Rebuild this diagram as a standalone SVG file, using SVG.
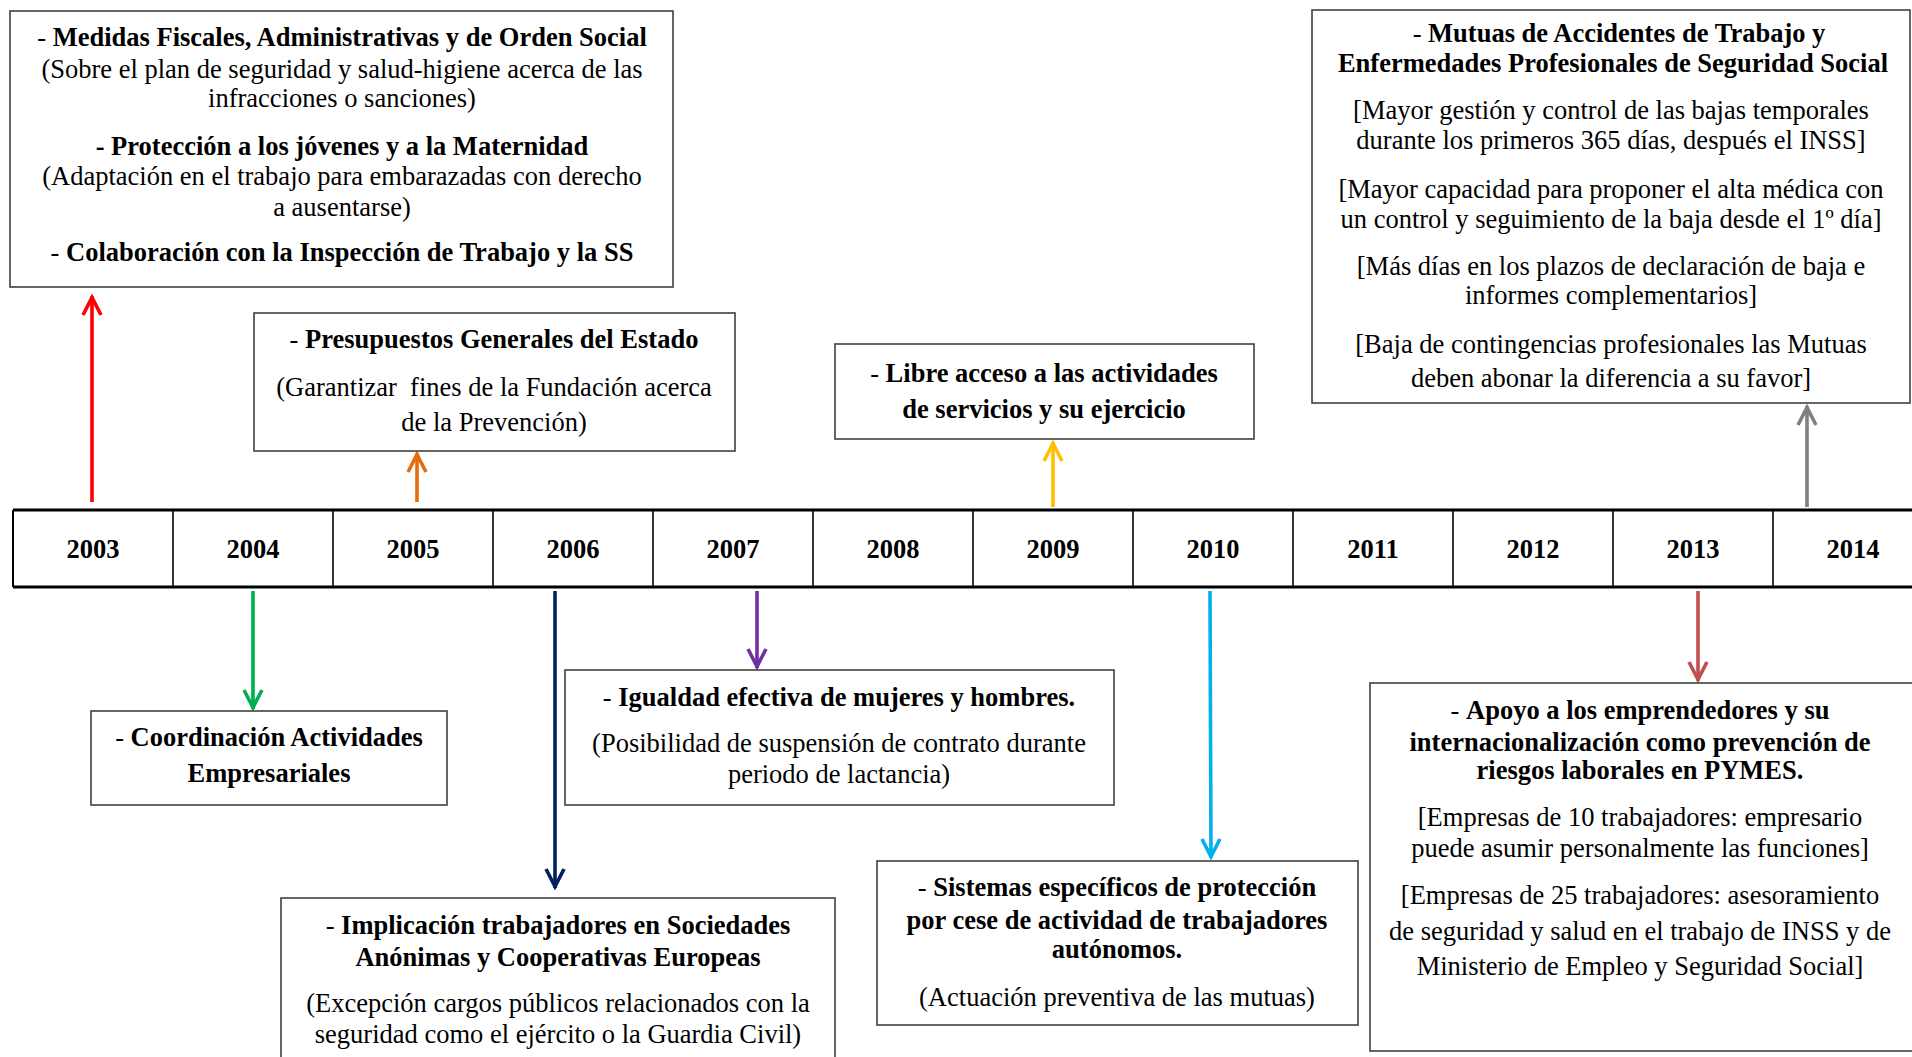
<svg xmlns="http://www.w3.org/2000/svg" width="1912" height="1057" viewBox="0 0 1912 1057">
<style>
text{font-family:"Liberation Serif","Times New Roman",serif;font-size:26.5px;fill:#000;text-anchor:middle}
.b{font-weight:bold}
.n{font-weight:normal}
.yr{font-weight:bold;font-size:26.5px}
.box{fill:#fff;stroke:#404040;stroke-width:1.6}
.conn line{stroke-width:3.6;fill:none}
.ah{fill:none;stroke-width:3.6;stroke-linejoin:miter}
</style>
<defs>
<marker id="m-red" markerUnits="userSpaceOnUse" markerWidth="40" markerHeight="40" refX="0" refY="0" orient="auto" overflow="visible"><path class="ah" d="M-19,-9 L-1.5,0 L-19,9" stroke="#FF0000"/></marker>
<marker id="m-orange" markerUnits="userSpaceOnUse" markerWidth="40" markerHeight="40" refX="0" refY="0" orient="auto" overflow="visible"><path class="ah" d="M-19,-9 L-1.5,0 L-19,9" stroke="#E46C0A"/></marker>
<marker id="m-yellow" markerUnits="userSpaceOnUse" markerWidth="40" markerHeight="40" refX="0" refY="0" orient="auto" overflow="visible"><path class="ah" d="M-19,-9 L-1.5,0 L-19,9" stroke="#FFC000"/></marker>
<marker id="m-gray" markerUnits="userSpaceOnUse" markerWidth="40" markerHeight="40" refX="0" refY="0" orient="auto" overflow="visible"><path class="ah" d="M-19,-9 L-1.5,0 L-19,9" stroke="#808080"/></marker>
<marker id="m-green" markerUnits="userSpaceOnUse" markerWidth="40" markerHeight="40" refX="0" refY="0" orient="auto" overflow="visible"><path class="ah" d="M-19,-9 L-1.5,0 L-19,9" stroke="#00B050"/></marker>
<marker id="m-navy" markerUnits="userSpaceOnUse" markerWidth="40" markerHeight="40" refX="0" refY="0" orient="auto" overflow="visible"><path class="ah" d="M-19,-9 L-1.5,0 L-19,9" stroke="#002060"/></marker>
<marker id="m-purple" markerUnits="userSpaceOnUse" markerWidth="40" markerHeight="40" refX="0" refY="0" orient="auto" overflow="visible"><path class="ah" d="M-19,-9 L-1.5,0 L-19,9" stroke="#7030A0"/></marker>
<marker id="m-blue" markerUnits="userSpaceOnUse" markerWidth="40" markerHeight="40" refX="0" refY="0" orient="auto" overflow="visible"><path class="ah" d="M-19,-9 L-1.5,0 L-19,9" stroke="#00B0F0"/></marker>
<marker id="m-brown" markerUnits="userSpaceOnUse" markerWidth="40" markerHeight="40" refX="0" refY="0" orient="auto" overflow="visible"><path class="ah" d="M-19,-9 L-1.5,0 L-19,9" stroke="#C0504D"/></marker>
</defs>
<rect width="1912" height="1057" fill="#fff"/>

<g id="timeline">
<line x1="13" y1="510" x2="1912" y2="510" stroke="#000" stroke-width="3"/>
<line x1="13" y1="587" x2="1912" y2="587" stroke="#000" stroke-width="3"/>
<g stroke="#000" stroke-width="1.6">
<line x1="13" y1="510" x2="13" y2="587" stroke-width="2"/>
<line x1="173" y1="510" x2="173" y2="587"/>
<line x1="333" y1="510" x2="333" y2="587"/>
<line x1="493" y1="510" x2="493" y2="587"/>
<line x1="653" y1="510" x2="653" y2="587"/>
<line x1="813" y1="510" x2="813" y2="587"/>
<line x1="973" y1="510" x2="973" y2="587"/>
<line x1="1133" y1="510" x2="1133" y2="587"/>
<line x1="1293" y1="510" x2="1293" y2="587"/>
<line x1="1453" y1="510" x2="1453" y2="587"/>
<line x1="1613" y1="510" x2="1613" y2="587"/>
<line x1="1773" y1="510" x2="1773" y2="587"/>
</g>
<text class="yr" x="93" y="558">2003</text>
<text class="yr" x="253" y="558">2004</text>
<text class="yr" x="413" y="558">2005</text>
<text class="yr" x="573" y="558">2006</text>
<text class="yr" x="733" y="558">2007</text>
<text class="yr" x="893" y="558">2008</text>
<text class="yr" x="1053" y="558">2009</text>
<text class="yr" x="1213" y="558">2010</text>
<text class="yr" x="1373" y="558">2011</text>
<text class="yr" x="1533" y="558">2012</text>
<text class="yr" x="1693" y="558">2013</text>
<text class="yr" x="1853" y="558">2014</text>
</g>

<g id="connectors" class="conn">
<line x1="92" y1="502" x2="92" y2="296" stroke="#FF0000" marker-end="url(#m-red)"/>
<line x1="417" y1="502" x2="417" y2="453" stroke="#E46C0A" marker-end="url(#m-orange)"/>
<line x1="1053" y1="507" x2="1053" y2="442" stroke="#FFC000" marker-end="url(#m-yellow)"/>
<line x1="1807" y1="507" x2="1807" y2="406" stroke="#808080" marker-end="url(#m-gray)"/>
<line x1="253" y1="591" x2="253" y2="709" stroke="#00B050" marker-end="url(#m-green)"/>
<line x1="555" y1="591" x2="555" y2="888" stroke="#002060" marker-end="url(#m-navy)"/>
<line x1="757" y1="591" x2="757" y2="668" stroke="#7030A0" marker-end="url(#m-purple)"/>
<line x1="1210" y1="591" x2="1211" y2="858" stroke="#00B0F0" marker-end="url(#m-blue)"/>
<line x1="1698" y1="591" x2="1698" y2="681" stroke="#C0504D" marker-end="url(#m-brown)"/>
</g>

<g id="n2003">
<rect class="box" x="10" y="11" width="663" height="276"/>
<text x="342" y="46"><tspan class="n">- </tspan><tspan class="b">Medidas Fiscales, Administrativas y de Orden Social</tspan></text>
<text x="342" y="78">(Sobre el plan de seguridad y salud-higiene acerca de las</text>
<text x="342" y="107">infracciones o sanciones)</text>
<text x="342" y="155" class="b">- Protección a los jóvenes y a la Maternidad</text>
<text x="342" y="185">(Adaptación en el trabajo para embarazadas con derecho</text>
<text x="342" y="216">a ausentarse)</text>
<text x="342" y="261"><tspan class="n">- </tspan><tspan class="b">Colaboración con la Inspección de Trabajo y la SS</tspan></text>
</g>

<g id="n2005">
<rect class="box" x="254" y="313" width="481" height="138"/>
<text x="494" y="348"><tspan class="n">- </tspan><tspan class="b">Presupuestos Generales del Estado</tspan></text>
<text x="494" y="396" xml:space="preserve">(Garantizar  fines de la Fundación acerca</text>
<text x="494" y="431">de la Prevención)</text>
</g>

<g id="n2009">
<rect class="box" x="835" y="344" width="419" height="95"/>
<text x="1044" y="382"><tspan class="n">- </tspan><tspan class="b">Libre acceso a las actividades</tspan></text>
<text x="1044" y="418" class="b">de servicios y su ejercicio</text>
</g>

<g id="n2014">
<rect class="box" x="1312" y="10" width="598" height="393"/>
<text x="1619" y="42"><tspan class="n">- </tspan><tspan class="b">Mutuas de Accidentes de Trabajo y</tspan></text>
<text x="1613" y="72" class="b">Enfermedades Profesionales de Seguridad Social</text>
<text x="1611" y="119">[Mayor gestión y control de las bajas temporales</text>
<text x="1611" y="149">durante los primeros 365 días, después el INSS]</text>
<text x="1611" y="198">[Mayor capacidad para proponer el alta médica con</text>
<text x="1611" y="228">un control y seguimiento de la baja desde el 1º día]</text>
<text x="1611" y="275">[Más días en los plazos de declaración de baja e</text>
<text x="1611" y="304">informes complementarios]</text>
<text x="1611" y="353">[Baja de contingencias profesionales las Mutuas</text>
<text x="1611" y="387">deben abonar la diferencia a su favor]</text>
</g>

<g id="n2004">
<rect class="box" x="91" y="711" width="356" height="94"/>
<text x="269" y="746"><tspan class="n">- </tspan><tspan class="b">Coordinación Actividades</tspan></text>
<text x="269" y="782" class="b">Empresariales</text>
</g>

<g id="n2007">
<rect class="box" x="565" y="670" width="549" height="135"/>
<text x="839" y="706"><tspan class="n">- </tspan><tspan class="b">Igualdad efectiva de mujeres y hombres.</tspan></text>
<text x="839" y="752">(Posibilidad de suspensión de contrato durante</text>
<text x="839" y="783">periodo de lactancia)</text>
</g>

<g id="n2006">
<rect class="box" x="281" y="898" width="554" height="170"/>
<text x="558" y="934"><tspan class="n">- </tspan><tspan class="b">Implicación trabajadores en Sociedades</tspan></text>
<text x="558" y="966" class="b">Anónimas y Cooperativas Europeas</text>
<text x="558" y="1012">(Excepción cargos públicos relacionados con la</text>
<text x="558" y="1043">seguridad como el ejército o la Guardia Civil)</text>
</g>

<g id="n2010">
<rect class="box" x="877" y="861" width="481" height="164"/>
<text x="1117" y="896"><tspan class="n">- </tspan><tspan class="b">Sistemas específicos de protección</tspan></text>
<text x="1117" y="929" class="b">por cese de actividad de trabajadores</text>
<text x="1117" y="958" class="b">autónomos.</text>
<text x="1117" y="1006">(Actuación preventiva de las mutuas)</text>
</g>

<g id="n2013">
<rect class="box" x="1370" y="683" width="560" height="368"/>
<text x="1640" y="719"><tspan class="n">- </tspan><tspan class="b">Apoyo a los emprendedores y su</tspan></text>
<text x="1640" y="751" class="b">internacionalización como prevención de</text>
<text x="1640" y="779" class="b">riesgos laborales en PYMES.</text>
<text x="1640" y="826">[Empresas de 10 trabajadores: empresario</text>
<text x="1640" y="857">puede asumir personalmente las funciones]</text>
<text x="1640" y="904">[Empresas de 25 trabajadores: asesoramiento</text>
<text x="1640" y="940">de seguridad y salud en el trabajo de INSS y de</text>
<text x="1640" y="975">Ministerio de Empleo y Seguridad Social]</text>
</g>
</svg>
